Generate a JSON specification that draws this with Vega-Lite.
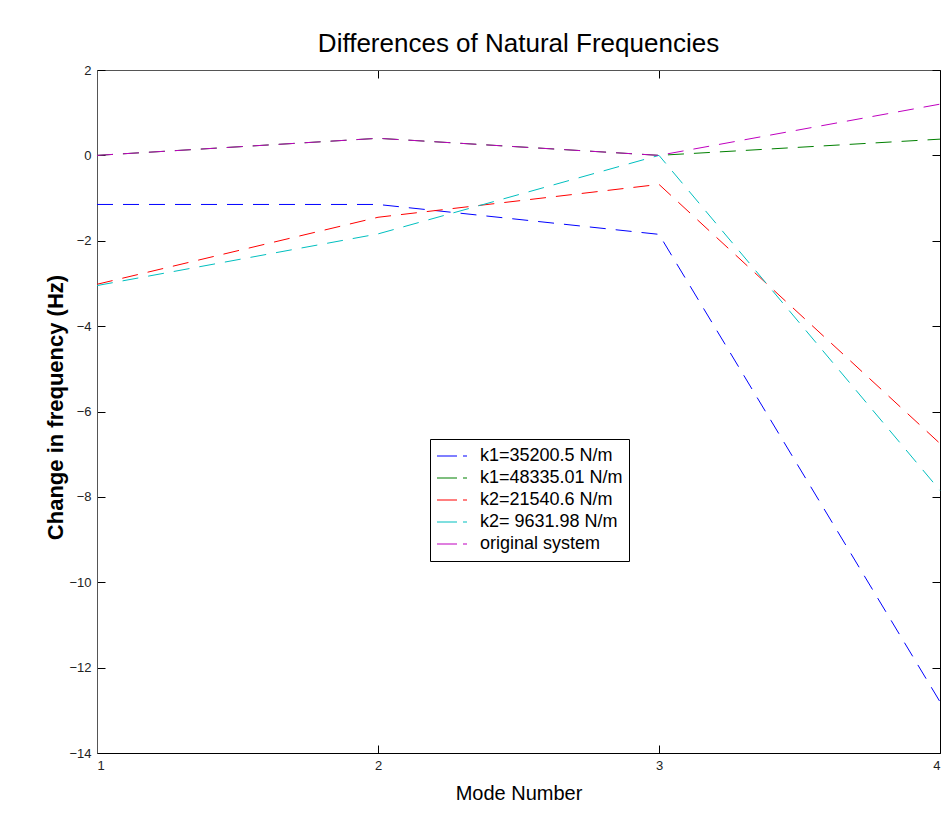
{
  "$schema": "https://vega.github.io/schema/vega-lite/v6.json",
  "width": 843,
  "height": 683,
  "autosize": {"type": "none"},
  "padding": {"left": 97, "top": 70, "right": 8, "bottom": 65},
  "background": "white",
  "title": {
    "text": "Differences of Natural Frequencies",
    "font": "Liberation Sans",
    "fontSize": 26,
    "fontWeight": "normal",
    "color": "black",
    "anchor": "middle",
    "offset": 7
  },
  "config": {
    "font": "Liberation Sans",
    "view": {"stroke": null},
    "axis": {
      "grid": false,
      "labelFont": "Liberation Sans",
      "labelFontSize": 13,
      "labelColor": "#222",
      "tickColor": "black",
      "tickSize": -8,
      "titleColor": "black"
    }
  },
  "data": {
    "values": [
      {"mode": 1, "value": -1.15, "series": "k1=35200.5 N/m"},
      {"mode": 2, "value": -1.15, "series": "k1=35200.5 N/m"},
      {"mode": 3, "value": -1.85, "series": "k1=35200.5 N/m"},
      {"mode": 4, "value": -12.8, "series": "k1=35200.5 N/m"},
      {"mode": 1, "value": 0, "series": "k1=48335.01 N/m"},
      {"mode": 2, "value": 0.4, "series": "k1=48335.01 N/m"},
      {"mode": 3, "value": 0, "series": "k1=48335.01 N/m"},
      {"mode": 4, "value": 0.38, "series": "k1=48335.01 N/m"},
      {"mode": 1, "value": -3.02, "series": "k2=21540.6 N/m"},
      {"mode": 2, "value": -1.45, "series": "k2=21540.6 N/m"},
      {"mode": 3, "value": -0.68, "series": "k2=21540.6 N/m"},
      {"mode": 4, "value": -6.75, "series": "k2=21540.6 N/m"},
      {"mode": 1, "value": -3.05, "series": "k2= 9631.98 N/m"},
      {"mode": 2, "value": -1.84, "series": "k2= 9631.98 N/m"},
      {"mode": 3, "value": 0, "series": "k2= 9631.98 N/m"},
      {"mode": 4, "value": -7.85, "series": "k2= 9631.98 N/m"},
      {"mode": 1, "value": 0, "series": "original system"},
      {"mode": 2, "value": 0.4, "series": "original system"},
      {"mode": 3, "value": 0, "series": "original system"},
      {"mode": 4, "value": 1.2, "series": "original system"}
    ]
  },
  "layer": [
    {
      "mark": {"type": "line", "strokeWidth": 1, "strokeDash": [16, 10]},
      "encoding": {
        "x": {
          "field": "mode", "type": "quantitative",
          "scale": {"domain": [1, 4], "nice": false, "zero": false},
          "axis": {
            "orient": "bottom", "values": [1, 2, 3, 4], "format": "d",
            "title": "Mode Number", "titleFontSize": 20, "titleFontWeight": "normal",
            "titlePadding": 11,
            "domainColor": "black", "labelPadding": 14
          }
        },
        "y": {
          "field": "value", "type": "quantitative",
          "scale": {"domain": [-14, 2], "nice": false, "zero": false},
          "axis": {
            "orient": "left", "values": [-14, -12, -10, -8, -6, -4, -2, 0, 2], "format": "d",
            "title": "Change in frequency (Hz)", "titleFontSize": 22, "titleFontWeight": "bold",
            "titleX": -30, "titleY": 337, "titleBaseline": "bottom", "titleAngle": -90,
            "domainColor": "#555", "labelPadding": 14
          }
        },
        "color": {
          "field": "series", "type": "nominal",
          "scale": {
            "domain": ["k1=35200.5 N/m", "k1=48335.01 N/m", "k2=21540.6 N/m", "k2= 9631.98 N/m", "original system"],
            "range": ["#0000ff", "#008000", "#ff0000", "#00bfbf", "#bf00bf"]
          },
          "legend": {
            "title": null,
            "orient": "none",
            "legendX": 333,
            "legendY": 369,
            "direction": "vertical",
            "strokeColor": "black",
            "fillColor": "white",
            "padding": 6,
            "symbolType": "stroke",
            "symbolSize": 900,
            "symbolStrokeWidth": 1.2,
            "symbolDash": [20, 6],
            "labelFont": "Liberation Sans",
            "labelFontSize": 18,
            "labelColor": "black",
            "labelOffset": 12,
            "clipHeight": 22,
            "rowPadding": 0
          }
        }
      }
    },
    {
      "mark": {"type": "line", "strokeOpacity": 0},
      "encoding": {
        "x": {
          "field": "mode", "type": "quantitative",
          "axis": {"orient": "top", "values": [1, 2, 3, 4], "labels": false, "title": null, "domainColor": "#555"}
        },
        "y": {
          "field": "value", "type": "quantitative",
          "axis": {"orient": "right", "values": [-14, -12, -10, -8, -6, -4, -2, 0, 2], "labels": false, "title": null, "domainColor": "black"}
        },
        "detail": {"field": "series"}
      }
    }
  ],
  "resolve": {"axis": {"x": "independent", "y": "independent"}}
}
